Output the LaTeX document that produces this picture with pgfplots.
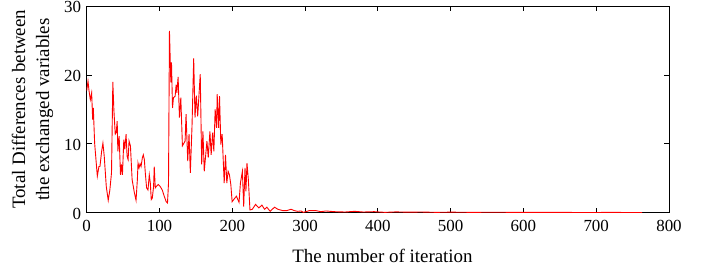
\documentclass[border=0pt]{standalone}
\usepackage{fontspec}
\setmainfont{Liberation Serif}
\usepackage{pgfplots}
\pgfplotsset{compat=1.18}
\begin{document}
\begin{tikzpicture}
\useasboundingbox (-86.7bp,-59.3bp) rectangle (622.3bp,212.7bp);
\begin{axis}[
  at={(0,0)}, anchor=south west,
  scale only axis,
  width=582.3bp, height=206.7bp,
  xmin=0, xmax=800, ymin=0, ymax=30,
  xtick={0,100,...,800}, ytick={0,10,20,30},
  tick pos=both, tick align=inside,
  major tick length=5bp,
  axis line style={line width=0.8pt, black},
  every tick/.style={line width=0.8pt, black},
  /pgf/number format/assume math mode=true,
  xticklabel={\pgfmathprintnumber{\tick}},
  yticklabel={\pgfmathprintnumber{\tick}},
  tick label style={font=\fontsize{17}{19}\selectfont},
  xticklabel style={yshift=-4bp},
  yticklabel style={xshift=-2bp, yshift=-1.2bp},
  label style={font=\fontsize{19}{24}\selectfont},
  xlabel={The number of iteration},
  ylabel={Total Differences between\\the exchanged variables},
  ylabel style={align=center, at={(axis description cs:-0.093,0.5)}, anchor=center},
  xlabel style={at={(axis description cs:0.508,-0.208)}, anchor=center},
  clip=true,
]
\addplot[red, line width=0.9pt] coordinates {
(0,17.7) (1.8,19.1) (3.2,17.7) (5,16.4) (6.8,17.4) (8.2,13.5) (9.1,15.2) (10.9,10.1)
(14.6,5.3) (16.8,6.7) (18.2,6.7) (20.5,8.9) (22.3,10.1) (24.1,8.2) (26.9,3.8) (29.6,1.8)
(31.8,3.3) (34.1,5.8) (35.9,19) (37.3,15) (39.2,11.4) (40.5,11.6) (41.9,13.3) (42.8,8.9)
(44.6,11.1) (46.4,5.5) (47.8,7) (49.1,5.5) (51,10.6) (52.3,9.2) (54.1,11.4) (55.5,8.2)
(56.9,7.7) (58.2,10.4) (60.1,9.7) (62.4,4.8) (65.5,2.9) (67.8,1.8) (69.6,4.8) (70.5,7.2)
(71.9,6.5) (73.3,7.1) (74.7,6.7) (76.5,8) (77.8,8.4) (79.2,7.7) (80.5,5.8) (82.3,3.6)
(84.2,3.3) (86,5.5) (87.4,4.3) (88.7,1.9) (90.1,2.1) (91.9,3.8) (92.8,6.7) (94.2,3.6)
(95.6,3.8) (98.3,4.1) (101,3.8) (103.8,3.3) (106.5,2.4) (109.2,1.6) (111,1.4) (112.4,4.3)
(113.7,26.4) (115.6,18.9) (116.5,21.8) (117.9,15.2) (119.2,16.7) (121.5,16.9) (122.9,18.6)
(123.8,17.4) (125.6,19.7) (127.4,13.8) (129.3,16.7) (131.5,9.7) (135.2,10.4) (136.5,14.3)
(138.8,7.5) (140.6,11.4) (142.4,5.8) (144.7,12.6) (147,22.4) (148.8,13.8) (150.6,17)
(152.5,14) (156,20.1) (158,7) (159.7,11.8) (161.5,6) (165.2,10.4) (167,8) (169.3,11.8)
(171,8.4) (173,11.6) (174.7,8.9) (176.5,15) (178.4,12.3) (179.3,17.2) (181.2,12.3)
(182.5,16.9) (184.3,9.9) (186.1,11.4) (188.9,4.3) (190.7,8.4) (192.5,4.3) (194.3,6)
(196.1,5.5) (198,4.1) (199.8,1.6) (203.4,2.1) (205.7,2.4) (209.3,1.5) (211.2,4.3)
(213.9,6) (215.7,0.9) (217.5,6.5) (218.8,3.1) (220.2,7.2) (222.1,4.8) (224.3,0.4)
(227.6,0.5) (232,1.2) (236.6,0.7) (240.7,1.1) (244.4,0.5) (247.5,0.8) (252.1,0.2)
(258,0.8) (262.6,0.5) (269.4,0.3) (274.8,0.3) (280.8,0.5) (285.3,0.3) (289.9,0.2)
(294.5,0.25) (297.6,0.05) (305.8,0.3) (315,0.3) (321.8,0.15) (328.6,0.25) (340,0.15)
(355,0.1) (368,0.2) (380,0.1) (395,0.15) (410,0.05) (425,0.12) (440,0.08) (460,0.1)
(480,0.05) (500,0.08) (530,0.05) (560,0.07) (600,0.04) (640,0.05) (680,0.03)
(720,0.04) (763,0.03)
};
\end{axis}
\end{tikzpicture}
\end{document}
